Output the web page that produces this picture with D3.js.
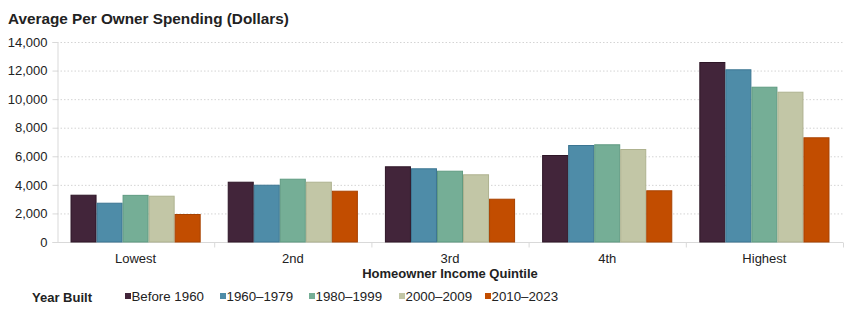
<!DOCTYPE html>
<html>
<head>
<meta charset="utf-8">
<script src="https://cdn.jsdelivr.net/npm/d3@7"></script>
<style>
  body { margin: 0; background: #fff; }
  svg { font-family: "Liberation Sans", Arial, sans-serif; }
</style>
</head>
<body>
<div id="chart"></div>
<script>
const quintiles = ["Lowest", "2nd", "3rd", "4th", "Highest"]
const yearBuilt = ["Before 1960", "1960–1979", "1980–1999", "2000–2009", "2010–2023"]
const colors = ["#42253a", "#4e8ca8", "#75ae96", "#c2c6a6", "#c24d00"]
const strokes = ["#2e1627", "#3b7592", "#5f9a81", "#aeb28f", "#a84200"]

// spending per owner, one array per year-built group, by quintile
const before1960 = [3310, 4220, 5300, 6090, 12600]
const y1960_1979 = [2750, 4010, 5160, 6790, 12090]
const y1980_1999 = [3300, 4430, 4990, 6840, 10870]
const y2000_2009 = [3240, 4220, 4740, 6510, 10520]
const y2010_2023 = [1960, 3590, 3030, 3620, 7330]
const seriesValues = [before1960, y1960_1979, y1980_1999, y2000_2009, y2010_2023]

const yTicks = [0, 2000, 4000, 6000, 8000, 10000, 12000, 14000]

const width = 850, height = 313
const margin = { top: 42, right: 7, bottom: 71, left: 57 }

const svg = d3.select("#chart").append("svg")
    .attr("width", width)
    .attr("height", height)

const x0 = d3.scaleBand()
    .domain(quintiles)
    .range([margin.left, width - margin.right])
    .paddingInner(0.172)
    .paddingOuter(0.086)

const outer = d3.scaleBand()
    .domain(quintiles)
    .range([margin.left, width - margin.right])

const x1 = d3.scaleBand()
    .domain(yearBuilt)
    .range([0, x0.bandwidth()])

const y = d3.scaleLinear()
    .domain([0, 14000])
    .range([height - margin.bottom, margin.top])

const color = d3.scaleOrdinal(yearBuilt, colors)
const stroke = d3.scaleOrdinal(yearBuilt, strokes)

// gridlines
svg.append("g")
    .selectAll("line")
    .data(yTicks.filter(d => d > 0))
    .join("line")
    .attr("x1", margin.left)
    .attr("x2", width - margin.right)
    .attr("y1", d => y(d) + 0.5)
    .attr("y2", d => y(d) + 0.5)
    .attr("stroke", "#d4d4d4")
    .attr("stroke-dasharray", "1.5,2")

// y axis
svg.append("g")
    .attr("transform", `translate(${margin.left + 0.5},0)`)
    .call(d3.axisLeft(y).tickValues(yTicks).tickFormat(d3.format(",")).tickSize(5).tickPadding(5))
    .call(g => g.select(".domain").attr("stroke", "#d9d9d9"))
    .call(g => g.selectAll(".tick line").attr("stroke", "#d9d9d9"))
    .call(g => g.selectAll("text").attr("font-size", 13).attr("fill", "#222"))

// x axis
const xAxis = svg.append("g")
    .attr("transform", `translate(0,${height - margin.bottom + 0.5})`)
xAxis.append("line")
    .attr("x1", margin.left)
    .attr("x2", width - margin.right)
    .attr("stroke", "#d9d9d9")
xAxis.selectAll("line.tk")
    .data(quintiles)
    .join("line")
    .attr("class", "tk")
    .attr("x1", d => outer(d) + outer.bandwidth() + 0.5)
    .attr("x2", d => outer(d) + outer.bandwidth() + 0.5)
    .attr("y2", 5)
    .attr("stroke", "#d9d9d9")
xAxis.selectAll("text")
    .data(quintiles)
    .join("text")
    .attr("x", d => outer(d) + outer.bandwidth() / 2)
    .attr("y", 20)
    .attr("text-anchor", "middle")
    .attr("font-size", 13)
    .attr("fill", "#222")
    .text(d => d)

// bars
const groups = svg.append("g")
    .selectAll("g")
    .data(quintiles)
    .join("g")
    .attr("transform", d => `translate(${x0(d)},0)`)

groups.selectAll("rect")
    .data((q, qi) => yearBuilt.map((name, si) => ({ name, value: seriesValues[si][qi] })))
    .join("rect")
    .attr("x", d => x1(d.name) + 0.5)
    .attr("y", d => y(d.value) + 0.5)
    .attr("width", x1.bandwidth() - 1)
    .attr("height", d => y(0) - y(d.value) - 0.5)
    .attr("fill", d => color(d.name))
    .attr("stroke", d => stroke(d.name))
    .attr("stroke-width", 1)

// title
svg.append("text")
    .attr("x", 8)
    .attr("y", 24)
    .attr("font-size", 15.3)
    .attr("font-weight", "bold")
    .attr("fill", "#222")
    .text("Average Per Owner Spending (Dollars)")

// x axis title
svg.append("text")
    .attr("x", (margin.left + width - margin.right) / 2)
    .attr("y", 278)
    .attr("text-anchor", "middle")
    .attr("font-size", 13)
    .attr("font-weight", "bold")
    .attr("fill", "#222")
    .text("Homeowner Income Quintile")

// legend
svg.append("text")
    .attr("x", 32)
    .attr("y", 302)
    .attr("font-size", 13)
    .attr("font-weight", "bold")
    .attr("fill", "#222")
    .text("Year Built")

const legendX = [125, 220, 309, 399, 485]
const items = svg.append("g")
    .selectAll("g")
    .data(yearBuilt)
    .join("g")
    .attr("transform", (d, i) => `translate(${legendX[i]},293)`)
items.append("rect")
    .attr("width", 6)
    .attr("height", 6)
    .attr("fill", d => color(d))
items.append("text")
    .attr("x", 6.5)
    .attr("y", 8)
    .attr("font-size", 13.3)
    .attr("fill", "#222")
    .text(d => d)
</script>
</body>
</html>
